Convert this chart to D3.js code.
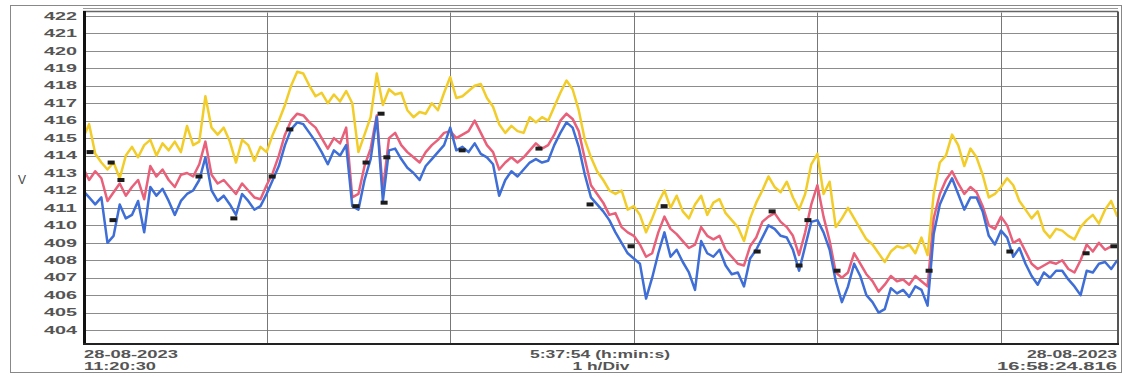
<!DOCTYPE html>
<html>
<head>
<meta charset="utf-8">
<script src="https://cdn.jsdelivr.net/npm/d3@7"></script>
<style>
  body { margin: 0; background: #fff; }
  text { font-family: "Liberation Sans", Arial, sans-serif; }
</style>
</head>
<body>
<div id="plot"></div>
<script>
// Voltage recorder trace, 28-08-2023 11:20:30 -> 16:58:24.816
const width = 1124, height = 377;
const margin = { left: 83, right: 1117, top: 12.5, bottom: 344 };

const totalMinutes = 337.9;       // 5:37:54
const stepMinutes = 2;            // one reading every 2 min
const yTicks = d3.range(404, 423);
const hourTicks = [60, 120, 180, 240, 300];

// readings (V), one per 2 minutes
const phaseYellow = [
  415.0, 415.8, 414.1, 413.6, 413.2, 413.6, 412.7, 414.0, 414.5, 413.9,
  414.6, 414.9, 414.0, 414.7, 414.3, 414.8, 414.2, 415.7, 414.6, 414.8,
  417.4, 415.6, 415.2, 415.6, 414.8, 413.6, 414.9, 414.6, 413.7, 414.5,
  414.2, 415.2, 416.0, 416.9, 418.0, 418.8, 418.7, 418.0, 417.4, 417.6,
  417.0, 417.5, 417.1, 417.7, 417.0, 414.2, 415.2, 416.2, 418.7, 416.9,
  417.8, 417.5, 417.6, 416.6, 416.2, 416.5, 416.4, 417.0, 416.6, 417.6,
  418.5, 417.3, 417.4, 417.7, 418.0, 418.1, 417.3, 416.8, 415.8, 415.3,
  415.7, 415.4, 415.3, 416.2, 415.9, 416.2, 416.0, 416.8, 417.6, 418.3,
  417.8, 416.6, 414.9, 413.9, 413.1, 412.6, 412.0, 411.8, 412.0, 410.9,
  411.1, 410.6, 409.6, 410.4, 411.3, 412.0, 411.0, 411.7, 410.8, 410.4,
  411.2, 411.7, 410.6, 411.3, 411.5, 410.7, 410.3, 409.9, 409.1, 410.4,
  411.3, 412.0, 412.8, 412.2, 411.9, 412.5, 411.6, 410.9, 411.8, 413.5,
  414.1, 411.8, 412.5, 409.9, 410.4, 411.0, 410.4, 409.8, 409.2, 408.9,
  408.4, 407.9, 408.5, 408.8, 408.7, 408.9, 408.4, 409.3, 408.3, 411.8,
  413.6, 414.0, 415.2, 414.6, 413.4, 414.4, 413.9, 412.9, 411.6, 411.8,
  412.2, 412.7, 412.3, 411.4, 410.9, 410.4, 410.8, 409.7, 409.3, 409.8,
  409.7, 409.4, 409.2, 409.9, 410.3, 410.6, 410.1, 410.9, 411.4, 410.5
];

const phaseRed = [
  413.3, 412.6, 413.1, 412.7, 411.4, 411.9, 412.4, 411.7, 412.2, 412.6,
  411.5, 413.4, 412.8, 413.2, 412.6, 412.2, 412.9, 413.0, 412.8, 413.5,
  414.8, 412.9, 412.4, 412.6, 412.2, 411.8, 412.4, 412.0, 411.6, 411.5,
  412.3, 413.0, 414.0, 415.2, 416.0, 416.4, 416.3, 415.9, 415.6, 415.0,
  414.4, 415.0, 414.7, 415.6, 411.6, 411.8, 413.4, 414.4, 416.3, 412.0,
  415.0, 415.3, 414.6, 414.2, 413.9, 413.6, 414.2, 414.6, 414.9, 415.3,
  415.4, 415.0, 415.2, 415.4, 416.0, 415.3, 414.6, 414.2, 413.2, 413.6,
  413.9, 413.6, 413.9, 414.3, 414.7, 414.4, 414.6, 415.2, 416.0, 416.4,
  416.1, 415.4, 413.8, 412.3, 411.8, 411.3, 410.6, 410.7, 409.9, 409.6,
  409.4, 408.9, 408.2, 408.4, 409.6, 410.5, 409.8, 409.5, 409.1, 408.7,
  408.9, 409.9, 409.4, 409.2, 409.4, 408.6, 408.2, 407.8, 407.7, 408.8,
  409.3, 410.2, 410.5, 410.7, 410.2, 409.9, 409.4, 408.3, 409.6, 411.2,
  412.3, 410.5, 409.1, 407.3, 407.0, 407.3, 408.4, 407.8, 407.2, 406.8,
  406.2, 406.6, 407.1, 406.8, 406.9, 406.6, 407.1, 406.8, 406.5, 410.4,
  411.8, 412.6, 413.1, 412.4, 411.8, 412.2, 411.9, 411.1, 410.0, 409.8,
  410.5, 410.0, 409.0, 409.2, 408.5, 407.8, 407.5, 407.7, 407.9, 407.8,
  408.0, 407.5, 407.3, 408.0, 408.9, 408.5, 409.0, 408.6, 408.8, 408.8
];

const phaseBlue = [
  412.0, 411.6, 411.2, 411.6, 409.0, 409.4, 411.2, 410.4, 410.6, 411.4,
  409.6, 412.2, 411.7, 412.1, 411.4, 410.6, 411.4, 411.8, 412.0, 412.6,
  413.9, 412.0, 411.4, 411.7, 411.2, 410.6, 411.8, 411.4, 410.9, 411.1,
  411.8, 412.6, 413.4, 414.6, 415.5, 415.9, 415.8, 415.3, 414.8, 414.2,
  413.5, 414.3, 414.0, 414.6, 411.1, 410.9, 412.6, 413.8, 416.2, 411.4,
  414.3, 414.4, 413.8, 413.3, 413.0, 412.6, 413.4, 413.8, 414.2, 414.6,
  415.6, 414.3, 414.5, 414.2, 414.7, 414.1, 413.9, 413.5, 411.7, 412.6,
  413.1, 412.8, 413.2, 413.6, 413.8, 413.6, 413.7, 414.6, 415.3, 415.9,
  415.6, 414.5, 412.9, 411.6, 411.2, 410.8, 410.3, 409.6, 409.0, 408.4,
  408.1, 407.8, 405.8, 407.0, 408.4, 409.6, 408.2, 408.6, 407.9, 407.3,
  406.3, 409.1, 408.4, 408.2, 408.6, 407.7, 407.2, 407.3, 406.5, 408.1,
  408.6, 409.3, 410.0, 409.8, 409.4, 409.3, 408.6, 407.4, 408.8, 410.2,
  410.3, 409.6, 408.6, 406.8, 405.6, 406.5, 407.8, 407.1, 406.0, 405.6,
  405.0, 405.2, 406.4, 406.1, 406.3, 405.9, 406.5, 406.3, 405.4, 409.5,
  411.2, 412.0, 412.7, 411.8, 410.9, 411.6, 411.6, 410.8, 409.4, 408.9,
  409.7, 409.3, 408.2, 408.7, 407.8, 407.1, 406.6, 407.3, 407.0, 407.4,
  407.4, 406.9, 406.5, 406.0, 407.4, 407.3, 407.8, 407.9, 407.5, 408.0
];

// event markers (minutes from start, V)
const markerMinutes = [2.3, 9.2, 12.4, 9.8, 37.9, 49.3, 61.8, 67.6, 89.2, 92.5,
  97.4, 98.4, 99.3, 123.9, 149.0, 165.7, 179.1, 189.9, 220.3, 225.2,
  234.0, 236.9, 246.4, 276.5, 302.9, 327.8, 336.9];
const markerVolts = [414.2, 413.6, 412.6, 410.3, 412.8, 410.4, 412.8, 415.5, 411.1, 413.6,
  416.4, 411.3, 413.9, 414.3, 414.4, 411.2, 408.8, 411.1, 408.5, 410.8,
  407.7, 410.3, 407.4, 407.4, 408.5, 408.4, 408.8];

const series = [
  { values: phaseYellow, color: "#f2cd2a" },
  { values: phaseRed, color: "#e8607a" },
  { values: phaseBlue, color: "#3e6ed6" }
];

const x = d3.scaleLinear().domain([0, totalMinutes]).range([margin.left, margin.right]);
const y = d3.scaleLinear().domain([403.2, 422.2]).range([margin.bottom, margin.top]);

const svg = d3.select("#plot")
    .append("svg")
    .attr("width", width)
    .attr("height", height);

// outer frame
svg.append("rect")
    .attr("x", 10.5).attr("y", 5.5)
    .attr("width", 1111).attr("height", 367)
    .attr("fill", "none")
    .attr("stroke", "#888")
    .attr("stroke-width", 1);

svg.append("line")
    .attr("x1", margin.left).attr("x2", margin.right + 1)
    .attr("y1", 8.5).attr("y2", 8.5)
    .attr("stroke", "#999").attr("stroke-width", 1);

// horizontal grid
svg.append("g")
    .selectAll("line")
    .data(yTicks)
    .enter()
    .append("line")
    .attr("x1", margin.left).attr("x2", margin.right)
    .attr("y1", d => Math.round(y(d)) + 0.5)
    .attr("y2", d => Math.round(y(d)) + 0.5)
    .attr("stroke", "#8c8c8c")
    .attr("stroke-width", 1);

// vertical grid, 1 h/div
svg.append("g")
    .selectAll("line")
    .data(hourTicks)
    .enter()
    .append("line")
    .attr("x1", d => Math.round(x(d)) + 0.5)
    .attr("x2", d => Math.round(x(d)) + 0.5)
    .attr("y1", margin.top).attr("y2", margin.bottom)
    .attr("stroke", "#777")
    .attr("stroke-width", 1);

// plot border
svg.append("line")
    .attr("x1", margin.left).attr("x2", margin.right + 1)
    .attr("y1", 11.5).attr("y2", 11.5)
    .attr("stroke", "#666").attr("stroke-width", 1.5);
svg.append("line")
    .attr("x1", margin.right + 1).attr("x2", margin.right + 1)
    .attr("y1", 11.5).attr("y2", margin.bottom)
    .attr("stroke", "#555").attr("stroke-width", 2);

svg.append("clipPath").attr("id", "clip")
    .append("rect")
    .attr("x", margin.left).attr("y", margin.top)
    .attr("width", margin.right - margin.left)
    .attr("height", margin.bottom - margin.top);

const line = d3.line()
    .x((d, i) => x(i * stepMinutes))
    .y(d => y(d));

const traces = svg.append("g").attr("clip-path", "url(#clip)");
series.forEach(s => {
    traces.append("path")
        .datum(s.values)
        .attr("d", line)
        .attr("fill", "none")
        .attr("stroke", s.color)
        .attr("stroke-width", 2.5)
        .attr("stroke-linejoin", "round");
});

// markers
traces.selectAll("rect.marker")
    .data(markerMinutes.map((m, i) => [m, markerVolts[i]]))
    .enter()
    .append("rect")
    .attr("class", "marker")
    .attr("x", d => x(d[0]) - 3.5)
    .attr("y", d => y(d[1]) - 2)
    .attr("width", 7)
    .attr("height", 4)
    .attr("fill", "#1c1c1c");

// axes lines
svg.append("line")
    .attr("x1", margin.left + 1.5).attr("x2", margin.left + 1.5)
    .attr("y1", 11).attr("y2", margin.bottom + 1)
    .attr("stroke", "#111").attr("stroke-width", 3);
svg.append("line")
    .attr("x1", margin.left).attr("x2", margin.right + 2)
    .attr("y1", margin.bottom).attr("y2", margin.bottom)
    .attr("stroke", "#222").attr("stroke-width", 2);

// y labels
const yAxis = d3.axisLeft(y)
    .tickValues(yTicks)
    .tickSize(0)
    .tickPadding(6)
    .tickFormat(d3.format("d"));

const gy = svg.append("g")
    .attr("transform", `translate(${margin.left},0)`)
    .call(yAxis);
gy.select(".domain").remove();
gy.selectAll("text")
    .attr("font-family", "Liberation Sans, Arial, sans-serif")
    .attr("font-size", 10)
    .attr("font-weight", "bold")
    .attr("fill", "#555")
    .attr("textLength", 33)
    .attr("lengthAdjust", "spacingAndGlyphs");

svg.append("text")
    .attr("x", 22).attr("y", 184)
    .attr("text-anchor", "middle")
    .attr("font-size", 12)
    .attr("fill", "#444")
    .text("V");

// time labels
const bottomLabels = [
    { text: "28-08-2023", x: 84, y: 358, anchor: "start", len: 94 },
    { text: "11:20:30", x: 84, y: 370, anchor: "start", len: 72 },
    { text: "5:37:54 (h:min:s)", x: 600, y: 358, anchor: "middle", len: 140 },
    { text: "1 h/Div", x: 601, y: 370, anchor: "middle", len: 57 },
    { text: "28-08-2023", x: 1117, y: 358, anchor: "end", len: 90 },
    { text: "16:58:24.816", x: 1117, y: 370, anchor: "end", len: 120 }
];

svg.append("g")
    .selectAll("text")
    .data(bottomLabels)
    .enter()
    .append("text")
    .attr("x", d => d.x)
    .attr("y", d => d.y)
    .attr("text-anchor", d => d.anchor)
    .attr("font-size", 10)
    .attr("font-weight", "bold")
    .attr("fill", "#555")
    .attr("textLength", d => d.len)
    .attr("lengthAdjust", "spacingAndGlyphs")
    .text(d => d.text);
</script>
</body>
</html>
